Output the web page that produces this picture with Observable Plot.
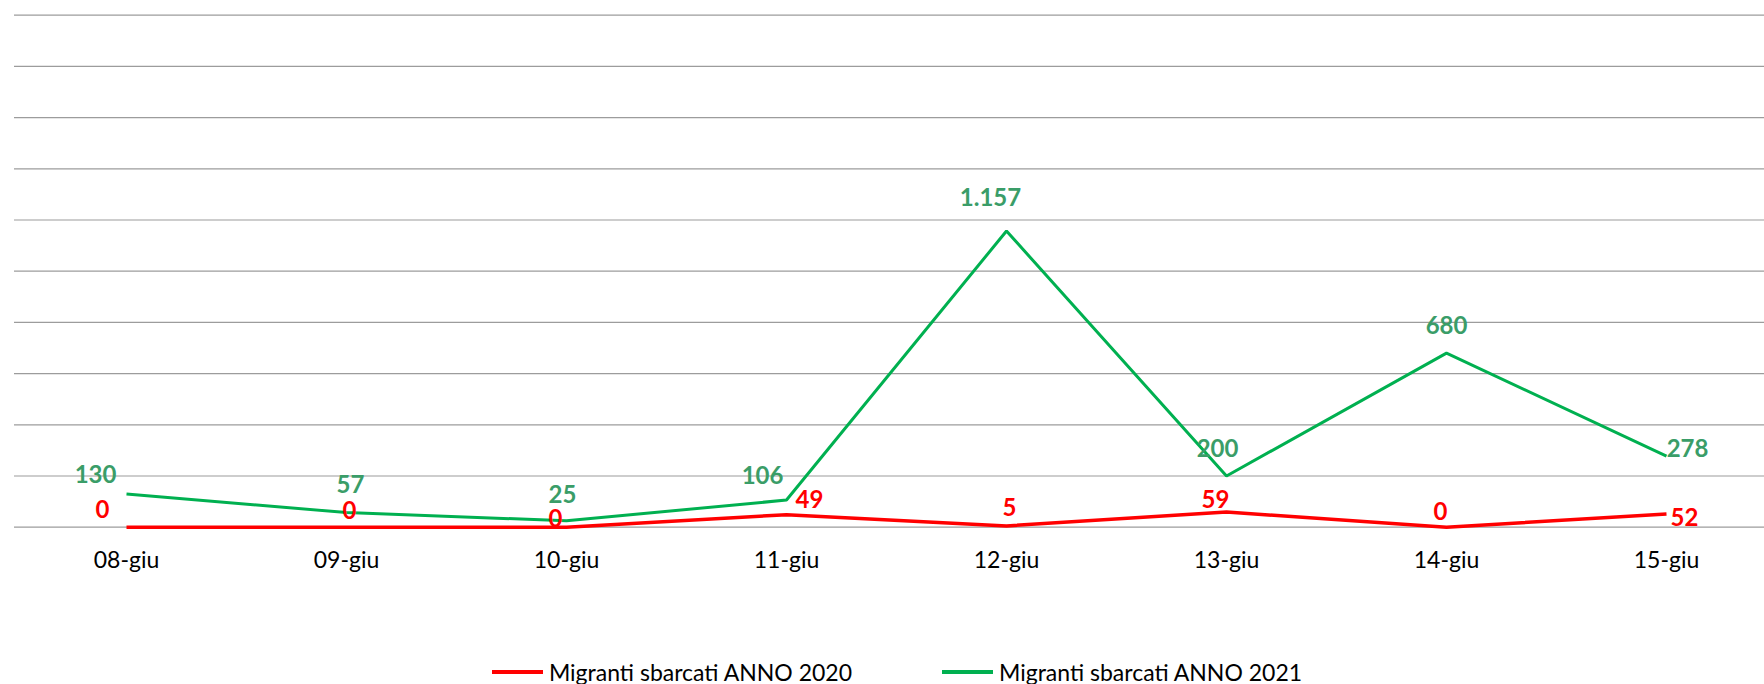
<!DOCTYPE html>
<html>
<head>
<meta charset="utf-8">
<script src="https://cdn.jsdelivr.net/npm/d3@7"></script>
<script src="https://cdn.jsdelivr.net/npm/@observablehq/plot@0.6"></script>
<style>
  html, body { margin: 0; padding: 0; background: #fff; }
  body { width: 1764px; height: 684px; overflow: hidden; font-family: Lato, "Open Sans", sans-serif; }
  #legend { display: flex; justify-content: center; align-items: center; height: 34px; padding-left: 30px; gap: 0; font-size: 23px; color: #000; }
  .item { display: flex; align-items: center; }
  .swatch { width: 51px; height: 4px; margin-right: 6px; }
  .item + .item { margin-left: 90px; }
</style>
</head>
<body>
<div id="chart"></div>
<div id="legend"></div>
<script>
// ---- data ----
const dates = ["08-giu", "09-giu", "10-giu", "11-giu", "12-giu", "13-giu", "14-giu", "15-giu"];
const sbarcati2020 = [0, 0, 0, 49, 5, 59, 0, 52];
const sbarcati2021 = [130, 57, 25, 106, 1157, 200, 680, 278];
const seriesNames = ["Migranti sbarcati ANNO 2020", "Migranti sbarcati ANNO 2021"];
const gridTicks = [0, 200, 400, 600, 800, 1000, 1200, 1400, 1600, 1800, 2000];

// ---- label placement (styling, pixel offsets from each point) ----
const off2020 = [[-24, -17], [3, -16], [-11, -8], [23, -14], [3, -18], [-11, -12], [-6, -15], [18, 4]];
const off2021 = [[-31, -19], [4, -27], [-4, -25], [-24, -24], [-16, -33], [-9, -27], [0, -27], [21, -7]];

const itFmt = d3.formatLocale({decimal: ",", thousands: ".", grouping: [3], currency: ["€", ""]}).format(",");

const rows2020 = dates.map((d, i) => ({date: d, value: sbarcati2020[i], dx: off2020[i][0], dy: off2020[i][1]}));
const rows2021 = dates.map((d, i) => ({date: d, value: sbarcati2021[i], dx: off2021[i][0], dy: off2021[i][1]}));

const RED = "#ff0000", GREEN = "#00b050", GREEN_LABEL = "#3a9d68";
const FONT = 'Lato, "Open Sans", sans-serif';

const labelMarks = (rows, color) => rows.map(r => Plot.text([r], {
  x: "date", y: "value", text: d => itFmt(d.value),
  dx: r.dx, dy: r.dy, fill: color, fontWeight: "bold", fontSize: 24, fontFamily: FONT
}));

const chart = Plot.plot({
  width: 1764,
  height: 655,
  marginTop: 14.7,
  marginBottom: 128.3,
  marginLeft: 14,
  marginRight: 0,
  style: {fontFamily: FONT, background: "#fff"},
  x: {type: "point", domain: dates, range: [124, 1668], padding: 0},
  y: {domain: [0, 2000], axis: null},
  marks: [
    Plot.ruleY(gridTicks, {stroke: "#9c9c9c", strokeWidth: 1.2}),
    Plot.axisX({tickSize: 0, tickPadding: 24, fontSize: 23, fill: "#000", color: "#000", label: null}),
    Plot.line(rows2020, {x: "date", y: "value", stroke: RED, strokeWidth: 3.5, strokeLinejoin: "miter", strokeLinecap: "butt"}),
    Plot.line(rows2021, {x: "date", y: "value", stroke: GREEN, strokeWidth: 3, strokeLinejoin: "miter", strokeLinecap: "butt"}),
    ...labelMarks(rows2020, RED),
    ...labelMarks(rows2021, GREEN_LABEL)
  ]
});
document.getElementById("chart").appendChild(chart);

const legend = document.getElementById("legend");
[[seriesNames[0], RED], [seriesNames[1], GREEN]].forEach(([name, color]) => {
  const it = document.createElement("div");
  it.className = "item";
  const sw = document.createElement("span");
  sw.className = "swatch";
  sw.style.background = color;
  const tx = document.createElement("span");
  tx.textContent = name;
  it.appendChild(sw); it.appendChild(tx);
  legend.appendChild(it);
});
</script>
</body>
</html>
